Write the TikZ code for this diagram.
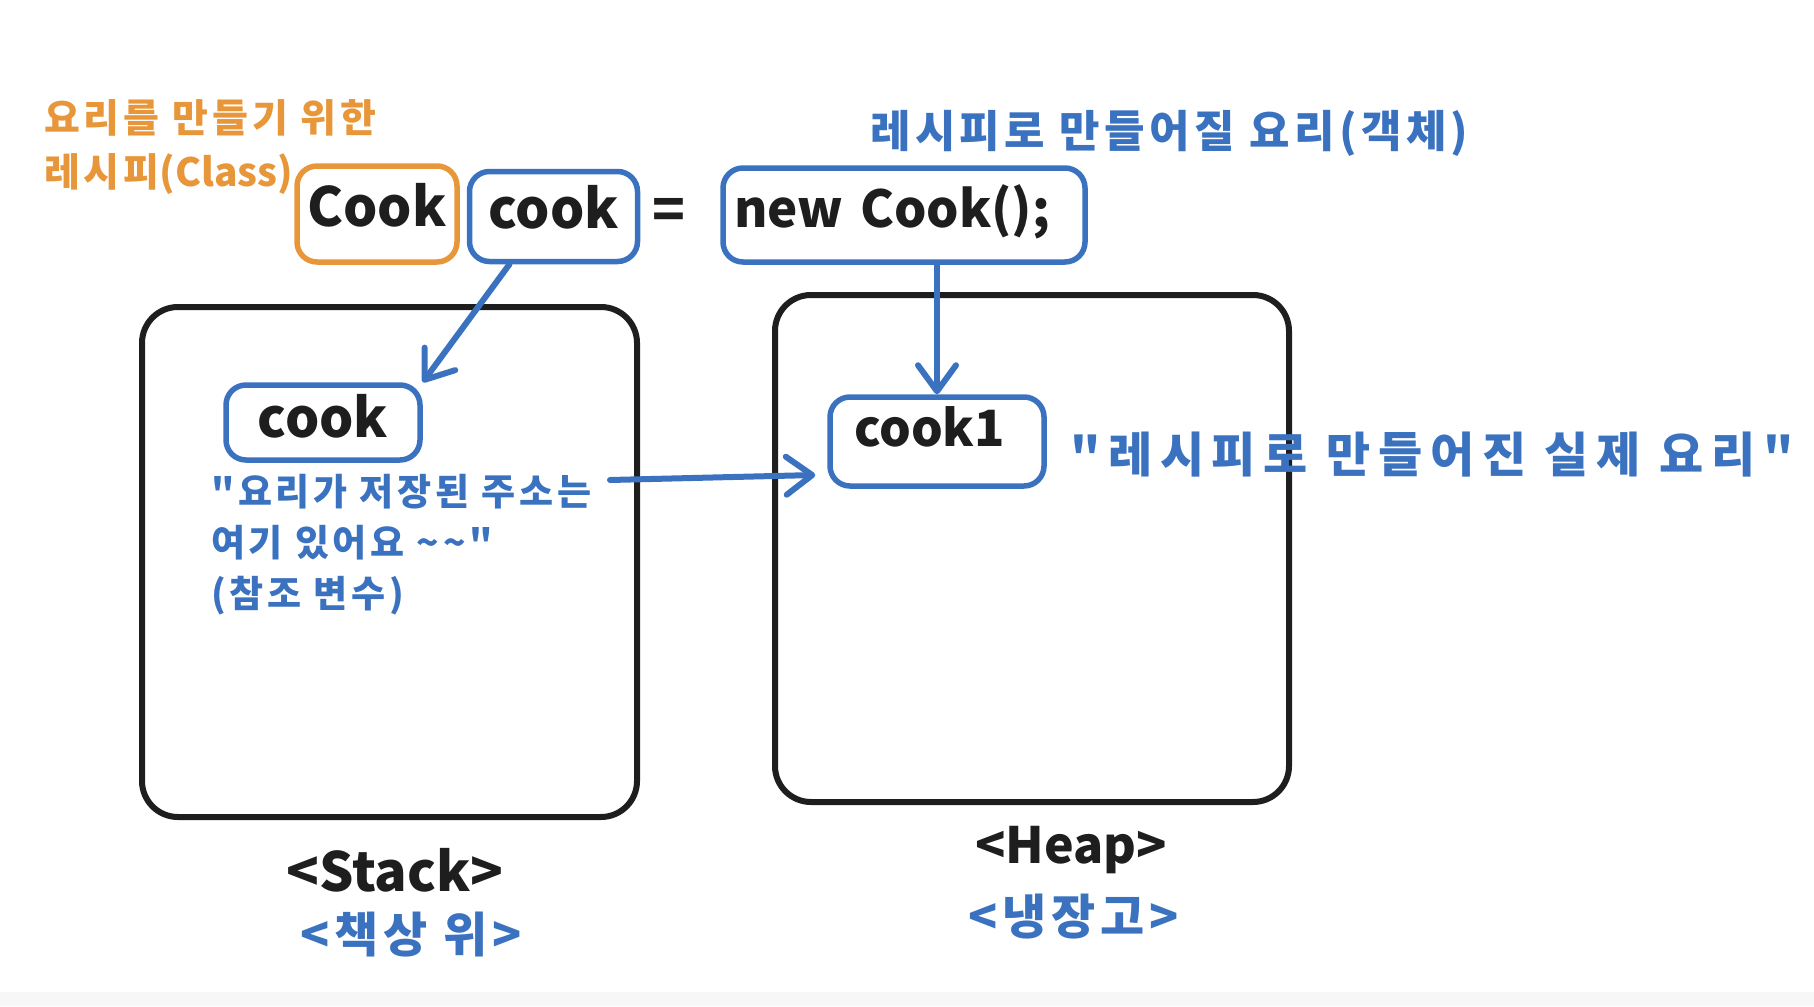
\documentclass[tikz,border=0pt]{standalone}
\usepackage{fontspec}
\setmainfont{Noto Sans CJK KR}
\newfontfamily\hangul[LetterSpace=10]{Noto Sans CJK KR}
\newfontfamily\hangulwide[LetterSpace=16]{Noto Sans CJK KR}
\newfontfamily\plainlatin{Noto Sans CJK KR}
\usetikzlibrary{arrows.meta,calc}
\definecolor{recipeorange}{HTML}{E8963A}
\definecolor{objblue}{HTML}{3A72C0}
\definecolor{inkblack}{HTML}{1E1E1E}
\tikzset{
  codebox/.style={draw=#1,line width=5.5pt,rounded corners=20pt,inner sep=0pt,text=inkblack,text height=44pt,text depth=20pt,font=\bfseries\fontsize{54}{64}\selectfont},
  memblock/.style={draw=inkblack,line width=6pt,rounded corners=36pt,inner sep=0pt},
  note/.style={inner sep=0pt,text=#1,align=left},
  caption/.style={inner sep=0pt,text=#1},
  ptr/.style={draw=objblue,line width=6pt,line cap=round,-{Straight Barb[round,length=26pt,width=38pt]}},
}
\begin{document}
\begin{tikzpicture}[x=1pt,y=-1pt]
\useasboundingbox (0,0) rectangle (1814,1006);
\fill[black!3] (0,992) rectangle (1814,1006);
\node[memblock,minimum width=495pt,minimum height=510pt] (stack) at (389.5,562) {};
\node[memblock,minimum width=514pt,minimum height=507pt] (heap) at (1032,548.5) {};
\node[codebox=recipeorange,minimum width=160pt,minimum height=96pt] (classbox) at (377,214) {Cook};
\node[codebox=objblue,minimum width=168pt,minimum height=90pt] (varbox) at (553.5,216.5) {cook};
\node[codebox=objblue,minimum width=362pt,minimum height=94pt,text width=340pt,align=left,font=\bfseries\fontsize{51}{64}\selectfont] (newbox) at (904,215) {new Cook();};
\node[codebox=objblue,minimum width=194pt,minimum height=75pt,text depth=14pt] (refbox) at (323,422.5) {cook};
\node[codebox=objblue,minimum width=214pt,minimum height=89pt,text depth=34pt,text width=166pt,align=left,font=\bfseries\fontsize{50}{64}\selectfont] (cook1) at (937,441.5) {cook1};
\node[caption=inkblack,font=\bfseries\fontsize{54}{64}\selectfont] (eqsign) at (669,214) {=};
\node[note=recipeorange,anchor=west,font=\hangul\bfseries\fontsize{39}{54}\selectfont] (classnote) at (44,147) {요리를 만들기 위한\\레시피{\plainlatin(Class)}};
\node[note=objblue,anchor=west,font=\hangul\bfseries\fontsize{44}{54}\selectfont] (objnote) at (870,133) {레시피로 만들어질 요리(객체)};
\node[note=objblue,anchor=west,font=\hangul\bfseries\fontsize{37}{51}\selectfont] (refnote) at (211,545) {"요리가 저장된 주소는\\여기 있어요 \textasciitilde\textasciitilde"\\(참조 변수)};
\node[note=objblue,anchor=west,font=\hangulwide\bfseries\fontsize{48}{54}\selectfont] (realnote) at (1070,455) {"레시피로 만들어진 실제 요리"};
\node[caption=inkblack,font=\bfseries\fontsize{54}{64}\selectfont] (stacklabel) at (395,870) {<Stack>};
\node[caption=objblue,font=\hangul\bfseries\fontsize{48}{60}\selectfont] (stackkr) at (411,935) {<책상 위>};
\node[caption=inkblack,font=\bfseries\fontsize{50}{64}\selectfont] (heaplabel) at (1071,850) {<Heap>};
\node[caption=objblue,font=\hangul\bfseries\fontsize{48}{60}\selectfont] (heapkr) at (1074,917) {<냉장고>};
\coordinate (refout) at (610,480);
\draw[ptr] ($(varbox.south)+(-44,0)$) -- (refbox.north east);
\draw[ptr] (cook1.north |- newbox.south) -- (cook1.north);
\draw[ptr] (refout) -- ($(cook1.west |- refout)+(-12,-5)$);
\end{tikzpicture}
\end{document}
